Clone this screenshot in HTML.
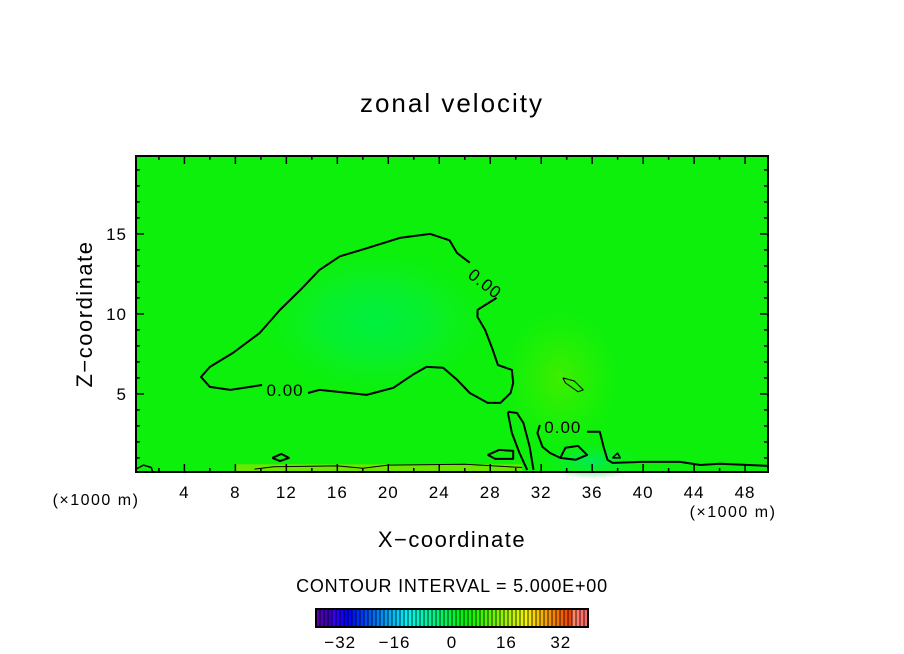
<!DOCTYPE html>
<html><head><meta charset="utf-8"><style>
html,body{margin:0;padding:0;background:#fff;}
svg{display:block;font-family:"Liberation Sans",sans-serif;}
</style></head><body>
<svg id="chart" width="904" height="654" viewBox="0 0 904 654">
<defs>
<radialGradient id="core" cx="0.5" cy="0.5" r="0.5">
<stop offset="0" stop-color="#00f040"/><stop offset="0.5" stop-color="#08f02c"/><stop offset="1" stop-color="#10f020" stop-opacity="0"/>
</radialGradient>
<radialGradient id="warm" cx="0.5" cy="0.5" r="0.5">
<stop offset="0" stop-color="#40ee00"/><stop offset="1" stop-color="#30f000" stop-opacity="0"/>
</radialGradient>
<radialGradient id="cool" cx="0.5" cy="0.5" r="0.5">
<stop offset="0" stop-color="#00e85a"/><stop offset="1" stop-color="#10f030" stop-opacity="0"/>
</radialGradient>
</defs>
<text x="452" y="112" text-anchor="middle" font-size="26" letter-spacing="2">zonal velocity</text>
<g id="plot"></g>
<text x="452" y="547" text-anchor="middle" font-size="22" letter-spacing="1.5">X−coordinate</text>
<text transform="translate(92,314) rotate(-90)" text-anchor="middle" font-size="22" letter-spacing="1.5">Z−coordinate</text>
<text x="96" y="505" text-anchor="middle" font-size="16" letter-spacing="1.5">(×1000 m)</text>
<text x="733" y="517" text-anchor="middle" font-size="16" letter-spacing="1.5">(×1000 m)</text>
<text x="452" y="592" text-anchor="middle" font-size="18" letter-spacing="0.8">CONTOUR INTERVAL = 5.000E+00</text>
<g id="cbar"></g>
</svg>
<script>
const xTicks=[4,8,12,16,20,24,28,32,36,40,44,48];
const yTicks=[5,10,15];
const cbarTicks=[-32,-16,0,16,32];
const contourLabel="0.00";
const mainLoop=[[13.7,5.06],[14.6,5.25],[16.0,5.13],[18.3,4.94],[20.4,5.38],[21.9,6.19],[23.0,6.69],[24.3,6.63],[25.4,5.88],[26.4,5.06],[27.8,4.44],[28.8,4.44],[29.6,5.06],[29.8,5.69],[29.7,6.5],[28.6,6.81],[28.2,7.75],[27.6,9.0],[27.0,9.81],[27.0,10.25],[28.5,11.0]];
const mainLoop2=[[26.4,13.2],[25.4,13.8],[24.8,14.6],[23.3,15.0],[20.9,14.75],[18.3,14.1],[16.2,13.6],[14.6,12.75],[13.1,11.5],[11.5,10.25],[9.9,8.8],[7.8,7.56],[6.0,6.69],[5.3,6.06],[6.0,5.44],[7.6,5.25],[10.1,5.56]];
const lineA=[[29.4,3.88],[30.1,3.81],[30.6,3.19],[31.1,1.69],[31.4,0.25]];
const lineB=[[29.4,3.88],[29.4,3.75],[29.7,2.56],[30.3,1.31],[30.9,0.25]];
const lineC=[[31.9,3.06],[31.7,2.56],[32.1,1.69],[32.7,1.31],[33.5,1.0],[33.6,1.06]];
const lineD=[[35.6,2.63],[36.6,2.63],[36.9,1.69],[37.2,0.88],[37.6,0.69],[39.8,0.75],[42.9,0.75],[44.5,0.56],[46.0,0.63],[49.8,0.5]];
const loopE=[[33.5,1.0],[33.9,1.63],[34.9,1.75],[35.6,1.19],[34.7,0.88],[33.5,1.0]];
const loopF=[[27.8,1.19],[28.7,1.5],[29.8,1.44],[29.8,0.94],[28.4,0.94],[27.8,1.19]];
const loopG=[[10.9,1.0],[11.6,1.25],[12.2,1.0],[11.5,0.8],[10.9,1.0]];
const loopSmall=[[37.6,1.0],[38.0,1.3],[38.2,1.0],[37.6,1.0]];
const cornerLine=[[0.2,0.3],[0.8,0.55],[1.4,0.4],[1.5,0.12]];
const thinEllipse=[[33.7,6.0],[34.6,5.81],[35.3,5.25],[34.9,5.13],[33.9,5.69],[33.7,6.0]];
const bottomThin=[[9.5,0.3],[11,0.45],[16,0.5],[18,0.35],[20,0.55],[26,0.6],[30.5,0.4]];
const labels=[[11.9,5.25,0],[27.6,11.9,38],[33.7,2.94,0]];
const NS="http://www.w3.org/2000/svg";
const X0=136,X1=768,Y0=156,Y1=472,xmin=0.2,xmax=49.8,ymin=0.12,ymax=19.87;
const sx=v=>X0+(v-xmin)/(xmax-xmin)*(X1-X0);
const sy=v=>Y1-(v-ymin)/(ymax-ymin)*(Y1-Y0);
const plot=document.getElementById('plot');
function mk(tag,attrs,parent){const e=document.createElementNS(NS,tag);for(const k in attrs)e.setAttribute(k,attrs[k]);(parent||plot).appendChild(e);return e;}
let e=mk('rect',{x:X0,y:Y0,width:X1-X0,height:Y1-Y0,fill:'#0cf00c'});


mk('ellipse',{cx:sx(19),cy:sy(9.5),rx:110,ry:70,fill:'url(#core)'});
mk('ellipse',{cx:sx(33.5),cy:sy(6),rx:60,ry:70,fill:'url(#warm)'});
mk('ellipse',{cx:sx(36),cy:sy(0.8),rx:50,ry:18,fill:'url(#cool)'});
mk('rect',{x:sx(8),y:sy(0.6),width:sx(30.5)-sx(8),height:sy(ymin)-sy(0.6),fill:'#6ae800'});
function poly(pts,name,w){const d=pts.map(p=>sx(p[0]).toFixed(1)+','+sy(p[1]).toFixed(1)).join(' ');
const el=mk('polyline',{points:d,fill:'none',stroke:'#000','stroke-width':w,'stroke-linejoin':'round'});

}
poly(mainLoop,'zero-contour-main',2);poly(mainLoop2,'zero-contour-main-upper',2);
poly(lineA,'zero-contour-a',2);poly(lineB,'zero-contour-b',2);poly(lineC,'zero-contour-c',2);
poly(lineD,'zero-contour-d',2);poly(loopE,'zero-contour-loop-e',2);poly(loopF,'zero-contour-loop-f',2);
poly(loopG,'zero-contour-loop-g',2);poly(loopSmall,'zero-contour-loop-small',1.5);poly(cornerLine,'zero-contour-corner',1.5);
poly(thinEllipse,'five-contour',1);poly(bottomThin,'five-contour-bottom',1);
labels.forEach(l=>{const t=mk('text',{x:sx(l[0]),y:sy(l[1])+6,'text-anchor':'middle','font-size':17,'letter-spacing':1,transform:`rotate(${l[2]} ${sx(l[0])} ${sy(l[1])})`});t.textContent=contourLabel;

});
e=mk('rect',{x:X0,y:Y0,width:X1-X0,height:Y1-Y0,fill:'none',stroke:'#000','stroke-width':2});


for(let v=2;v<=48;v+=2){const maj=v%4===0,L=maj?8:4;
mk('line',{x1:sx(v),x2:sx(v),y1:Y1,y2:Y1-L,stroke:'#000','stroke-width':1.5});
mk('line',{x1:sx(v),x2:sx(v),y1:Y0,y2:Y0+L,stroke:'#000','stroke-width':1.5});}
for(let v=1;v<=19;v++){const maj=v%5===0,L=maj?8:4;
mk('line',{x1:X0,x2:X0+L,y1:sy(v),y2:sy(v),stroke:'#000','stroke-width':1.5});
mk('line',{x1:X1,x2:X1-L,y1:sy(v),y2:sy(v),stroke:'#000','stroke-width':1.5});}
xTicks.forEach(v=>{const t=mk('text',{x:sx(v),y:498,'text-anchor':'middle','font-size':17,'letter-spacing':1});t.textContent=v;

});
yTicks.forEach(v=>{const t=mk('text',{x:127,y:sy(v)+6,'text-anchor':'end','font-size':17,'letter-spacing':1});t.textContent=v;

});
// colorbar
const cb=document.getElementById('cbar');
const CX0=316,CX1=588,CY0=609,CY1=627,cmin=-40,cmax=40;
const cx=v=>CX0+(v-cmin)/(cmax-cmin)*(CX1-CX0);
function hsl(f){const h=270*(1-f);return `hsl(${h},100%,${f>0.95?70:(f<0.05?35:48)}%)`;}
const N=68;
for(let i=0;i<N;i++){const w=(CX1-CX0)/N;
mk('rect',{x:CX0+i*w,y:CY0,width:w,height:CY1-CY0,fill:hsl(i/(N-1))},cb);
mk('line',{x1:CX0+i*w,x2:CX0+i*w,y1:CY0,y2:CY1,stroke:'#000','stroke-width':0.8},cb);}
e=mk('rect',{x:CX0,y:CY0,width:CX1-CX0,height:CY1-CY0,fill:'none',stroke:'#000','stroke-width':2},cb);


cbarTicks.forEach(v=>{const t=mk('text',{x:cx(v)+(v<0?-3:0),y:648,'text-anchor':'middle','font-size':17,'letter-spacing':1},cb);t.textContent=(v<0?'−':'')+Math.abs(v);

});
</script>
</body></html>
